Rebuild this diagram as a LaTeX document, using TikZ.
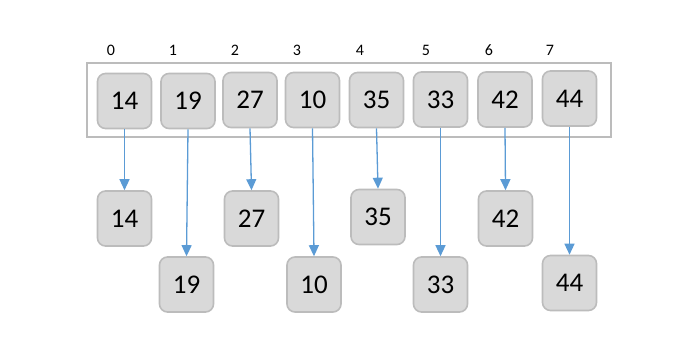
\documentclass[tikz,border=0pt]{standalone}
\usepackage{fontspec}
\setmainfont{Carlito}
\usetikzlibrary{arrows.meta}
\definecolor{boxfill}{HTML}{D9D9D9}
\definecolor{boxline}{HTML}{BCBCBC}
\definecolor{arrowblue}{HTML}{5B9BD5}
\begin{document}
\begin{tikzpicture}[x=1pt,y=-1pt,
  cell/.style={draw=boxline, line width=1.6pt, fill=boxfill, rounded corners=8pt,
    minimum width=54pt, minimum height=55pt, inner sep=0pt, font=\fontsize{27}{30}\selectfont},
  idx/.style={inner sep=0pt, font=\fontsize{16}{18}\selectfont},
  link/.style={draw=arrowblue, line width=1.3pt, -{Triangle[length=11pt,width=10pt]}}]
\useasboundingbox (0,0) rectangle (700,355);
\node[draw=boxline, line width=2pt, minimum width=524pt, minimum height=74pt, inner sep=0pt] (frame) at (349,100) {};
% index labels
\node[idx] (i0) at (111,50) {0};
\node[idx] (i1) at (173,50) {1};
\node[idx] (i2) at (235,50) {2};
\node[idx] (i3) at (297,50) {3};
\node[idx] (i4) at (360,50) {4};
\node[idx] (i5) at (426,50) {5};
\node[idx] (i6) at (489,50) {6};
\node[idx] (i7) at (550,50) {7};
% top row
\node[cell] (t0) at (124.5,101) {14};
\node[cell] (t1) at (188,101) {19};
\node[cell] (t2) at (250,100) {27};
\node[cell] (t3) at (312.5,100) {10};
\node[cell] (t4) at (376.5,100) {35};
\node[cell] (t5) at (440.5,99.5) {33};
\node[cell] (t6) at (505,99.5) {42};
\node[cell] (t7) at (569.5,98.5) {44};
% bottom rows
\node[cell] (b0) at (124.5,218.5) {14};
\node[cell] (b1) at (186.5,284.5) {19};
\node[cell] (b2) at (251.5,218.5) {27};
\node[cell] (b3) at (314,284.5) {10};
\node[cell] (b4) at (378,217) {35};
\node[cell] (b5) at (440.5,284.5) {33};
\node[cell] (b6) at (505.5,218.5) {42};
\node[cell] (b7) at (569.5,283) {44};
% arrows
\foreach \i in {0,...,7} {
  \draw[link] (t\i.south) -- (b\i.north);
}
\end{tikzpicture}
\end{document}
